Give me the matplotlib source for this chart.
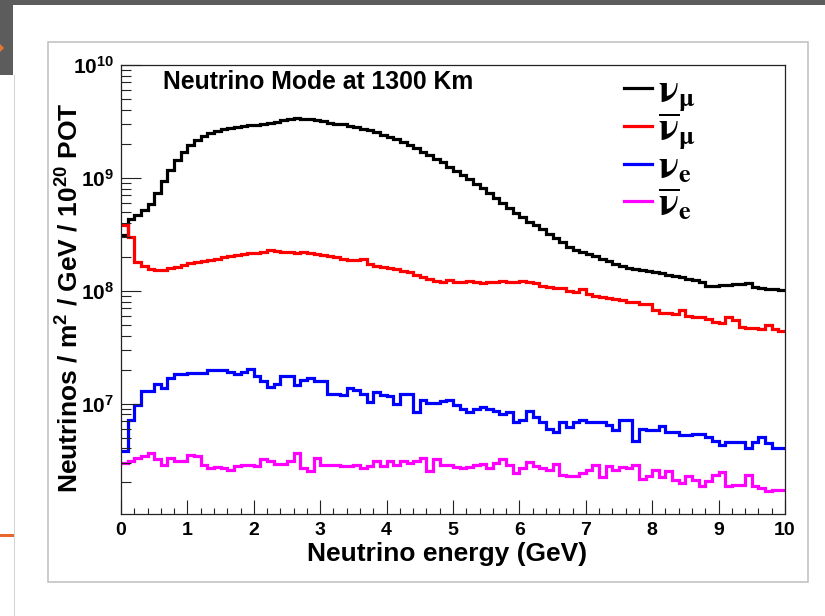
import numpy as np
import matplotlib
matplotlib.use("Agg")
import matplotlib.pyplot as plt
from matplotlib.lines import Line2D
from matplotlib.legend import Legend
from matplotlib.patches import Rectangle, Polygon
from matplotlib.ticker import LogLocator, NullFormatter, MultipleLocator, LogFormatterMathtext

plt.rcParams['font.family'] = ['Liberation Sans', 'DejaVu Sans']
plt.rcParams['font.weight'] = 'bold'
plt.rcParams['mathtext.fontset'] = 'custom'
plt.rcParams['mathtext.rm'] = 'Liberation Sans:bold'
plt.rcParams['mathtext.it'] = 'Liberation Sans:bold'
plt.rcParams['mathtext.bf'] = 'Liberation Sans:bold'
plt.rcParams['mathtext.default'] = 'rm'

# ---------------- data (0.1 GeV bins from 0 to 10 GeV) ----------------
energy_edges = np.linspace(0.0, 10.0, 101)

# nu_mu flux, units of 1e8
numu = [3.1, 4.3, 4.7, 5.2, 5.9, 7.4, 9.4, 11.8, 14.3, 17.0,
        19.6, 21.8, 23.7, 25.0, 26.0, 26.9, 27.6, 28.2, 28.7, 29.1,
        29.4, 29.8, 30.6, 31.5, 32.4, 33.2, 33.6, 33.4, 32.9, 32.3,
        31.6, 30.9, 30.3, 29.7, 29.0, 28.2, 27.3, 26.4, 25.3, 24.2,
        23.1, 22.0, 20.8, 19.6, 18.4, 17.1, 15.9, 14.8, 13.7, 12.6,
        11.6, 10.6, 9.8, 8.9, 8.1, 7.3, 6.6, 6.0, 5.4, 4.9,
        4.5, 4.1, 3.8, 3.5, 3.2, 2.95, 2.7, 2.45, 2.3, 2.2,
        2.12, 2.02, 1.92, 1.82, 1.72, 1.66, 1.6, 1.57, 1.53, 1.5,
        1.47, 1.43, 1.38, 1.35, 1.31, 1.28, 1.25, 1.2, 1.1, 1.11,
        1.13, 1.13, 1.15, 1.14, 1.16, 1.08, 1.05, 1.03, 1.03, 1.02]

# anti-nu_mu flux, units of 1e8
numubar = [3.8, 3.0, 1.8, 1.66, 1.55, 1.53, 1.54, 1.6, 1.63, 1.7,
           1.76, 1.8, 1.84, 1.86, 1.92, 1.98, 2.02, 2.08, 2.13, 2.14,
           2.18, 2.22, 2.28, 2.24, 2.2, 2.2, 2.18, 2.2, 2.16, 2.12,
           2.06, 2.04, 2.0, 1.9, 1.88, 1.86, 1.92, 1.72, 1.66, 1.62,
           1.6, 1.56, 1.5, 1.46, 1.38, 1.32, 1.28, 1.23, 1.2, 1.25,
           1.2, 1.2, 1.22, 1.2, 1.18, 1.2, 1.2, 1.22, 1.2, 1.2,
           1.21, 1.2, 1.16, 1.1, 1.08, 1.06, 1.05, 1.0, 0.98, 1.04,
           0.93, 0.89, 0.88, 0.87, 0.85, 0.83, 0.8, 0.79, 0.77, 0.76,
           0.68, 0.64, 0.63, 0.62, 0.68, 0.6, 0.58, 0.59, 0.56, 0.53,
           0.52, 0.58, 0.55, 0.48, 0.47, 0.47, 0.46, 0.5, 0.46, 0.44]

# nu_e flux, units of 1e6
nue = [3.8, 7.2, 9.7, 12.9, 12.9, 14.9, 13.8, 17.0, 18.2, 18.2,
       18.8, 18.8, 18.8, 20.0, 20.0, 20.0, 19.1, 18.2, 19.0, 20.1,
       17.5, 15.8, 14.0, 14.8, 17.5, 17.5, 14.6, 16.1, 17.0, 15.8,
       15.8, 12.2, 12.2, 11.9, 13.8, 13.1, 12.1, 10.4, 12.7, 11.9,
       11.7, 10.0, 12.1, 12.1, 8.5, 10.7, 10.2, 10.2, 10.5, 10.7,
       9.8, 8.9, 8.5, 8.9, 9.3, 8.9, 8.6, 8.0, 8.45, 6.8,
       7.2, 8.6, 7.6, 6.8, 6.0, 5.6, 6.8, 6.2, 6.8, 7.2,
       6.9, 6.9, 6.9, 6.5, 5.8, 7.1, 7.1, 4.7, 6.0, 5.8,
       5.8, 6.3, 5.6, 5.6, 5.3, 5.3, 5.4, 5.4, 5.1, 4.7,
       4.3, 4.6, 4.6, 4.6, 4.0, 4.6, 5.1, 4.5, 4.0, 4.0]

# anti-nu_e flux, units of 1e6
nuebar = [3.0, 3.12, 3.3, 3.45, 3.66, 3.2, 2.84, 3.3, 3.1, 3.08,
          3.5, 3.4, 2.88, 2.7, 2.75, 2.69, 2.6, 2.78, 2.88, 2.88,
          2.78, 3.25, 3.08, 2.92, 2.92, 3.08, 3.66, 2.69, 2.51, 3.3,
          2.84, 2.88, 2.88, 2.78, 2.78, 2.88, 2.69, 2.78, 3.08, 2.78,
          3.12, 2.88, 3.08, 2.98, 3.08, 3.3, 2.55, 3.25, 2.88, 2.88,
          2.73, 2.66, 2.73, 2.84, 2.92, 2.66, 2.98, 3.25, 2.88, 2.43,
          2.69, 3.04, 2.78, 2.66, 2.6, 2.92, 2.35, 2.27, 2.27, 2.43,
          2.6, 2.84, 2.22, 2.78, 2.6, 2.73, 2.69, 2.84, 2.16, 2.27,
          2.6, 2.22, 2.5, 2.12, 1.98, 2.27, 2.08, 1.85, 2.05, 2.35,
          2.48, 1.85, 1.91, 1.91, 2.31, 1.85, 1.79, 1.69, 1.73, 1.73]

series = [
    (np.array(numu) * 1e8, '#000000', r'$\mathrm{\nu}_{\mathrm{\mu}}$'),
    (np.array(numubar) * 1e8, '#ff0000', r'$\overline{\mathrm{\nu}}_{\mathrm{\mu}}$'),
    (np.array(nue) * 1e6, '#0000ff', r'$\mathrm{\nu}_{\mathbf{e}}$'),
    (np.array(nuebar) * 1e6, '#ff00ff', r'$\overline{\mathrm{\nu}}_{\mathbf{e}}$'),
]

title_text = "Neutrino Mode at 1300 Km"
xlabel_text = "Neutrino energy (GeV)"
ylabel_text = r"Neutrinos / m$^{2}$ / GeV / 10$^{20}$ POT"

# ---------------- figure ----------------
W, H = 825, 616
fig = plt.figure(figsize=(W / 100, H / 100), dpi=100)
fig.patch.set_facecolor('white')

# screenshot surroundings
fig.patches.append(Rectangle((0, 1 - 5 / H), 1, 5 / H, transform=fig.transFigure,
                             facecolor='#5c5c5c', edgecolor='none', zorder=0))
fig.patches.append(Rectangle((0, 1 - 75 / H), 13 / W, 75 / H, transform=fig.transFigure,
                             facecolor='#5c5c5c', edgecolor='none', zorder=0))
fig.patches.append(Polygon([(0, 1 - 44 / H), (4 / W, 1 - 48 / H), (0, 1 - 52 / H)],
                           closed=True, transform=fig.transFigure,
                           facecolor='#e8772e', edgecolor='none', zorder=1))
fig.patches.append(Rectangle((0, 1 - 537 / H), 14 / W, 3 / H, transform=fig.transFigure,
                             facecolor='#e8672e', edgecolor='none', zorder=0))
fig.patches.append(Rectangle((14 / W, 0), 1.2 / W, 1 - 75 / H, transform=fig.transFigure,
                             facecolor='#d4d4d4', edgecolor='none', zorder=0))
fig.patches.append(Rectangle((48 / W, 1 - 582 / H), 760 / W, 540 / H, transform=fig.transFigure,
                             facecolor='none', edgecolor='#c4c4c4', lw=1.2, zorder=0))

ax_l, ax_r, ax_t, ax_b = 121, 785, 65, 514
ax = fig.add_axes([ax_l / W, 1 - ax_b / H, (ax_r - ax_l) / W, (ax_b - ax_t) / H])

def fx(px):
    return (px - ax_l) / (ax_r - ax_l)

def fy(py):
    return (ax_b - py) / (ax_b - ax_t)

for vals, col, lab in series:
    ax.stairs(vals, energy_edges, baseline=None, color=col, lw=2.3)

ax.set_yscale('log')
ax.set_xlim(0, 10)
ax.set_ylim(1.05e6, 1e10)

ax.xaxis.set_major_locator(MultipleLocator(1))
ax.xaxis.set_minor_locator(MultipleLocator(0.2))
ax.yaxis.set_major_locator(LogLocator(base=10))
ax.yaxis.set_major_formatter(LogFormatterMathtext())
ax.yaxis.set_minor_locator(LogLocator(base=10, subs=np.arange(2, 10)))
ax.yaxis.set_minor_formatter(NullFormatter())

ax.tick_params(axis='both', which='both', direction='in', top=False, right=False,
               width=0.8, color='#222222')
ax.tick_params(axis='y', which='major', length=14.4, labelsize=15, pad=5)
ax.tick_params(axis='y', which='minor', length=7.2)
ax.tick_params(axis='x', which='major', length=10, labelsize=14, pad=6)
ax.tick_params(axis='x', which='minor', length=4.3)
for s in ax.spines.values():
    s.set_linewidth(0.9)
    s.set_color('#222222')

ax.set_xlabel(xlabel_text, fontsize=19, fontweight='bold')
ax.xaxis.set_label_coords(fx(447), fy(542))
ax.set_ylabel(ylabel_text, fontsize=19, fontweight='bold')
ax.yaxis.set_label_coords(fx(83), fy(298))

ax.text(fx(163), fy(89), title_text, transform=ax.transAxes,
        ha='left', va='baseline', fontsize=17.8, fontweight='bold')

# legend: one entry per row, rows placed like the reference
row_y = [93, 131, 167, 204]
for (vals, col, lab), yy in zip(series, row_y):
    h = Line2D([], [], color=col, lw=2.3)
    lg = Legend(ax, [h], [lab], loc='center left',
                bbox_to_anchor=(fx(624), fy(yy)), bbox_transform=ax.transAxes,
                frameon=False, fontsize=27, handlelength=0.75, handletextpad=0.15,
                borderpad=0, borderaxespad=0)
    for t in lg.get_texts():
        t.set_math_fontfamily('stix')
    ax.add_artist(lg)

fig.savefig('out.png', dpi=100)
